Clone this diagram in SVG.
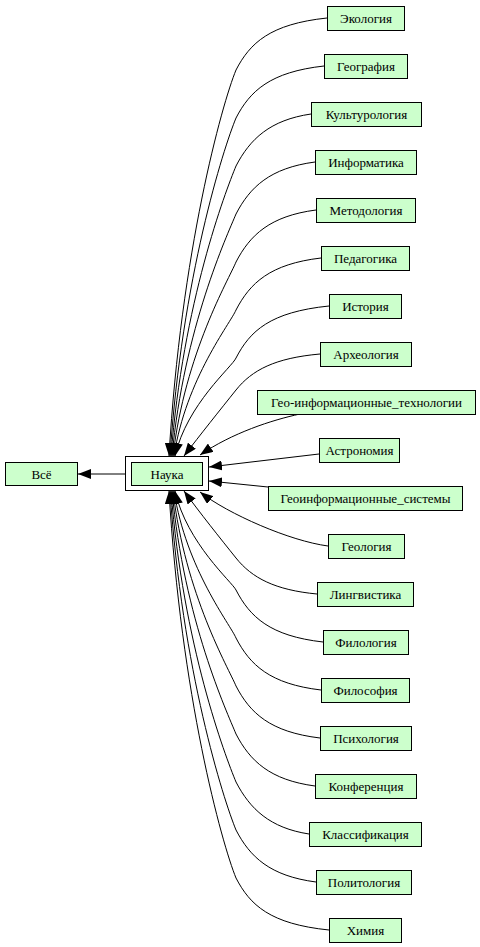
<svg xmlns="http://www.w3.org/2000/svg" width="480" height="947" viewBox="0 0 480 947" font-family="Liberation Serif, DejaVu Serif, serif">
<style>
.n rect{fill:#ccffcc;stroke:#000;stroke-width:1}
text{font-family:"Liberation Serif","DejaVu Serif",serif;font-size:13px;text-anchor:middle;fill:#000;font-style:normal}
.e path{fill:none;stroke:#000;stroke-width:1;marker-end:url(#ah)}
</style>
<defs>
<marker id="ah" markerUnits="userSpaceOnUse" markerWidth="13" markerHeight="10" viewBox="0 0 13 10" refX="13" refY="5" orient="auto">
<path d="M0,0 L13,5 L0,10 z" fill="#000"/>
</marker>
</defs>
<rect width="480" height="947" fill="#fff"/>
<g class="e" id="edges">
<path d="M125,474 L78,474"/>
<path d="M327,18 C270,24 250,43 236,70 C222,104 181,251.4 169,456"/>
<path d="M324,66 C270,72 250,91 236,118 C223.7,147.8 182,276.9 170,456"/>
<path d="M311,114 C270,120 250,139 236,166 C225.5,191.5 183,302.3 171,456"/>
<path d="M315,162 C270,168 250,187 236,214 C227.2,235.3 184,327.7 172,456"/>
<path d="M316,210 C270,216 250,235 236,262 C229,279.1 185,353.2 173,456"/>
<path d="M321,258 C270,264 250,283 236,310 C230.7,322.9 186,378.6 174,456"/>
<path d="M329,306 C270,312 250,331 236,358 C232.4,366.6 187,404.1 175,456"/>
<path d="M320,354 C275,358 252,370 236,390 C220,410 200,435 184,456"/>
<path d="M300,414 C272,420 232,433 200,455"/>
<path d="M319,454 L209,467"/>
<path d="M268,487 L209,481"/>
<path d="M328,546 C290,541 228,514 200,492"/>
<path d="M317,594 C275,590 252,578 236,558 C220,538 200,513 184,491"/>
<path d="M323,642 C270,636 250,617 236,590 C232.4,582.3 187,543.5 175,491"/>
<path d="M321,690 C270,684 250,665 236,638 C230.7,625.1 186,568.9 174,491"/>
<path d="M320,738 C270,732 250,713 236,686 C228.9,668.8 185,594.4 173,491"/>
<path d="M315,786 C270,780 250,761 236,734 C227.2,712.6 184,619.8 172,491"/>
<path d="M309,834 C270,828 250,809 236,782 C225.4,756.4 183,645.2 171,491"/>
<path d="M316,882 C270,876 250,857 236,830 C223.7,800.1 182,670.7 170,491"/>
<path d="M329,930 C270,924 250,905 236,878 C222,843.9 181,696.1 169,491"/>
</g>
<g class="n" id="n_vse"><rect x="5.5" y="462.5" width="72" height="23"/><text x="41.5" y="478.5">Всё</text></g>
<g class="n" id="n_nauka"><rect x="125.5" y="456.5" width="83" height="34" style="fill:#fff"/><rect x="131.5" y="462.5" width="71" height="23"/><text x="167" y="478.5">Наука</text></g>
<g class="n" id="n0"><rect x="327.5" y="6.5" width="77" height="24"/><text x="366" y="22.5">Экология</text></g>
<g class="n" id="n1"><rect x="324.5" y="54.5" width="83" height="24"/><text x="366" y="70.5">География</text></g>
<g class="n" id="n2"><rect x="311.5" y="102.5" width="110" height="24"/><text x="366.5" y="118.5">Культурология</text></g>
<g class="n" id="n3"><rect x="315.5" y="150.5" width="101" height="24"/><text x="366" y="166.5">Информатика</text></g>
<g class="n" id="n4"><rect x="316.5" y="198.5" width="99" height="24"/><text x="366" y="214.5">Методология</text></g>
<g class="n" id="n5"><rect x="321.5" y="246.5" width="88" height="24"/><text x="365.5" y="262.5">Педагогика</text></g>
<g class="n" id="n6"><rect x="329.5" y="294.5" width="72" height="24"/><text x="365.5" y="310.5">История</text></g>
<g class="n" id="n7"><rect x="320.5" y="342.5" width="91" height="24"/><text x="366" y="358.5">Археология</text></g>
<g class="n" id="n8"><rect x="257.5" y="390.5" width="218" height="24"/><text x="366.5" y="406.5">Гео-информационные_технологии</text></g>
<g class="n" id="n9"><rect x="319.5" y="438.5" width="80" height="24"/><text x="359.5" y="454.5">Астрономия</text></g>
<g class="n" id="n10"><rect x="268.5" y="486.5" width="194" height="24"/><text x="365.5" y="502.5">Геоинформационные_системы</text></g>
<g class="n" id="n11"><rect x="328.5" y="534.5" width="76" height="24"/><text x="366.5" y="550.5">Геология</text></g>
<g class="n" id="n12"><rect x="317.5" y="582.5" width="96" height="24"/><text x="365.5" y="598.5">Лингвистика</text></g>
<g class="n" id="n13"><rect x="323.5" y="630.5" width="85" height="24"/><text x="366" y="646.5">Филология</text></g>
<g class="n" id="n14"><rect x="321.5" y="678.5" width="88" height="24"/><text x="365.5" y="694.5">Философия</text></g>
<g class="n" id="n15"><rect x="320.5" y="726.5" width="91" height="24"/><text x="366" y="742.5">Психология</text></g>
<g class="n" id="n16"><rect x="315.5" y="774.5" width="101" height="24"/><text x="366" y="790.5">Конференция</text></g>
<g class="n" id="n17"><rect x="309.5" y="822.5" width="112" height="24"/><text x="365.5" y="838.5">Классификация</text></g>
<g class="n" id="n18"><rect x="316.5" y="870.5" width="95" height="24"/><text x="364" y="886.5">Политология</text></g>
<g class="n" id="n19"><rect x="329.5" y="918.5" width="72" height="24"/><text x="365.5" y="934.5">Химия</text></g>
</svg>
